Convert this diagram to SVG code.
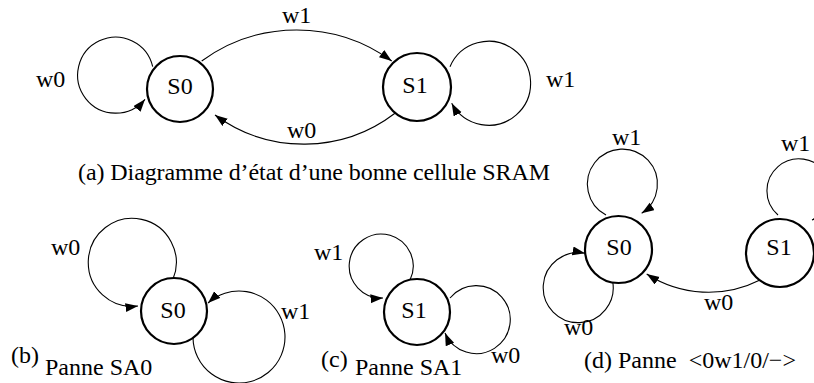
<svg xmlns="http://www.w3.org/2000/svg" width="814" height="383" viewBox="0 0 814 383">
<style>
text{font-family:"Liberation Serif","Times New Roman","DejaVu Serif",serif;font-size:24px;fill:#000}
.st{fill:#fff;stroke:#000;stroke-width:2.2}
.nm{text-anchor:middle}
.e{fill:none;stroke:#000;stroke-width:1.1;marker-end:url(#ah)}
</style>
<defs>
<marker id="ah" markerUnits="userSpaceOnUse" markerWidth="13" markerHeight="10" refX="12.5" refY="4.5" orient="auto">
<path d="M0,0 L12.5,4.5 L0,9 z" fill="#000"/>
</marker>
</defs>
<rect width="814" height="383" fill="#fff"/>
<g id="connectors">
<path class="e" d="M152.7 66.7 A38 38 0 1 0 145 99.3"/>
<path class="e" d="M201.7 61 A161 161 0 0 1 391.7 61"/>
<path class="e" d="M395 113.3 A150 150 0 0 1 215 115"/>
<path class="e" d="M450 66.7 A42 42 0 1 1 451.7 103.3"/>
<path class="e" d="M173 279 A44 44 0 1 0 138 306"/>
<path class="e" d="M193 338 A46 46 0 1 0 208 303"/>
<path class="e" d="M410 280 A32 32 0 1 0 383 298"/>
<path class="e" d="M450 298 A34 34 0 1 1 445 333"/>
<path class="e" d="M606 215 A35 35 0 1 1 641.7 213.3"/>
<path class="e" d="M612.7 281.7 A35 35 0 1 1 585 253.3"/>
<path class="e" d="M778 215 A32 32 0 1 1 812 220"/>
<path class="e" d="M760 280 A114 114 0 0 1 646.7 274"/>
</g>
<g id="labels">
<text x="36" y="87">w0</text>
<text x="282" y="23">w1</text>
<text x="287" y="138">w0</text>
<text x="546" y="87">w1</text>
<text x="51" y="255">w0</text>
<text x="281" y="319">w1</text>
<text x="314" y="260">w1</text>
<text x="491" y="363">w0</text>
<text x="612" y="145">w1</text>
<text x="781" y="151">w1</text>
<text x="564" y="335">w0</text>
<text x="704" y="310">w0</text>
</g>
<g id="a-S0"><circle class="st" cx="180" cy="89" r="33"/><text class="nm" x="180" y="94">S0</text></g>
<g id="a-S1"><circle class="st" cx="417" cy="87" r="34"/><text class="nm" x="415" y="93">S1</text></g>
<g id="b-S0"><circle class="st" cx="174" cy="311" r="33"/><text class="nm" x="173" y="318">S0</text></g>
<g id="c-S1"><circle class="st" cx="417" cy="312" r="33"/><text class="nm" x="414" y="318">S1</text></g>
<g id="d-S0"><circle class="st" cx="618.5" cy="249.5" r="33.5"/><text class="nm" x="619" y="255">S0</text></g>
<g id="d-S1"><circle class="st" cx="780" cy="253" r="34"/><text class="nm" x="779" y="255">S1</text></g>
<g id="captions">
<text x="78" y="180" textLength="472" lengthAdjust="spacing">(a) Diagramme d’état d’une bonne cellule SRAM</text>
<text x="11" y="363">(b)</text>
<text x="45" y="375">Panne SA0</text>
<text x="321" y="367">(c)</text>
<text x="355" y="375">Panne SA1</text>
<text x="584" y="368">(d) Panne <tspan dx="6">&lt;0w1/0/−&gt;</tspan></text>
</g>
</svg>
